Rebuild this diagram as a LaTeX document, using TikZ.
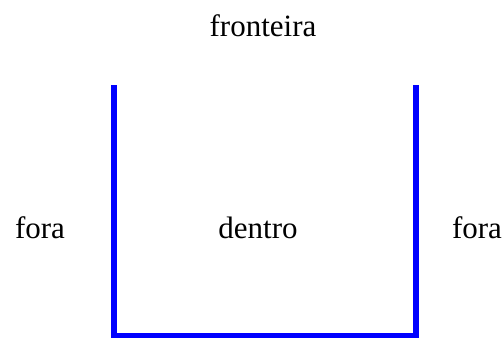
\documentclass[tikz,border=0pt]{standalone}
\usepackage{fontspec}
\setmainfont{Liberation Serif}
\newfontfamily\tnrfont{Liberation Serif}
\begin{document}
\begin{tikzpicture}[x=1pt,y=-1pt,
  lbl/.style={anchor=base,inner sep=0pt,font=\tnrfont\fontsize{31}{36}\selectfont},
  wall/.style={draw=blue,line width=5.5pt,line join=miter}]
\useasboundingbox (0,0) rectangle (504,338);
\node[lbl] (fronteira) at (263,36) {fronteira};
\node[lbl] (foraL) at (40,238) {fora};
\node[lbl] (dentro) at (258,238) {dentro};
\node[lbl] (foraR) at (477,238) {fora};
\coordinate (tl) at (114,85);
\coordinate (bl) at (114,335.5);
\coordinate (br) at (416,335.5);
\coordinate (tr) at (416,85);
\draw[wall] (tl) -- (bl) -- (br) -- (tr);
\end{tikzpicture}
\end{document}
